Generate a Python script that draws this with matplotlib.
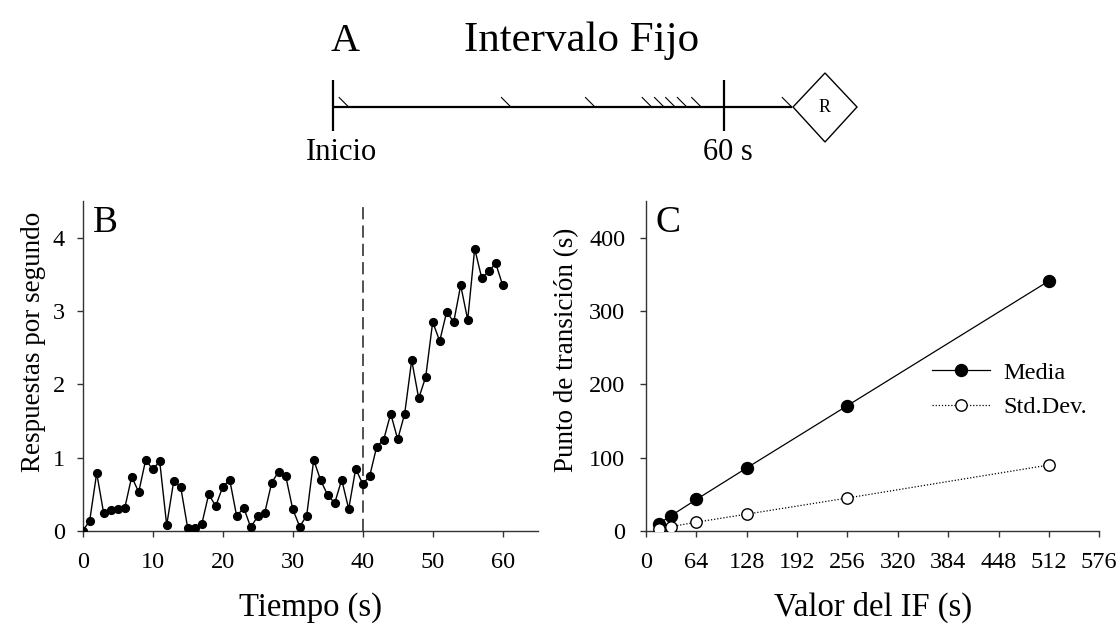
import matplotlib
matplotlib.use("Agg")
import matplotlib.pyplot as plt
from matplotlib.patches import Polygon

plt.rcParams['font.family'] = ['Liberation Serif', 'DejaVu Serif']

# ---------------- data ----------------
# Panel A: response times (s) on the fixed-interval timeline
resp_times = [2.4, 27.3, 40.2, 48.9, 50.8, 52.5, 54.3, 56.5, 70.4]
interval_s = 60
reinforcer_s = 75.5

# Panel B: responses per second over time
tiempo = list(range(0, 61))
respuestas = [0.00, 0.14, 0.79, 0.24, 0.28, 0.30, 0.31, 0.74, 0.53, 0.97,
              0.84, 0.95, 0.08, 0.68, 0.60, 0.04, 0.04, 0.09, 0.50, 0.34,
              0.60, 0.70, 0.20, 0.32, 0.05, 0.20, 0.245, 0.66, 0.81, 0.75,
              0.30, 0.06, 0.21, 0.97, 0.69, 0.49, 0.38, 0.70, 0.30, 0.85,
              0.64, 0.75, 1.15, 1.245, 1.60, 1.25, 1.60, 2.33, 1.81, 2.10,
              2.85, 2.59, 2.99, 2.85, 3.35, 2.88, 3.85, 3.45, 3.54, 3.65,
              3.35]
transicion_B = 40
b_xticks = [0, 10, 20, 30, 40, 50, 60]
b_yticks = [0, 1, 2, 3, 4]

# Panel C: transition point vs FI value
valor_if = [16, 32, 64, 128, 256, 512]
media = [10, 21, 43, 86, 171, 341]
std_dev = [3, 6, 12, 23, 45, 90]
c_xticks = [0, 64, 128, 192, 256, 320, 384, 448, 512, 576]
c_yticks = [0, 100, 200, 300, 400]

# ---------------- figure ----------------
W, H = 1120, 624
fig = plt.figure(figsize=(W / 100, H / 100), dpi=100)

TICK_FS = 17.5
XLAB_FS = 23.5
YLAB_FS = 19.5

# ---- Panel A (diagram) ----
axA = fig.add_axes([0, 0, 1, 1])
px_per_s = (724 - 333) / 60.0
axA.set_xlim(-333 / px_per_s, (W - 333) / px_per_s)
axA.set_ylim(H, 0)  # vertical in pixels
axA.axis('off')
line_y = 107
sx = 9.5 / px_per_s
axA.plot([0, resp_times[-1]], [line_y, line_y], color='black', lw=1.6,
         solid_capstyle='butt')
for t in [0, interval_s]:
    axA.plot([t, t], [80, 131], color='black', lw=1.6, solid_capstyle='butt')
for t in resp_times:
    axA.plot([t - sx, t], [line_y - 9.5, line_y], color='black', lw=0.8)
hw = 32 / px_per_s
diamond = Polygon([[reinforcer_s - hw, line_y], [reinforcer_s, line_y - 34],
                   [reinforcer_s + hw, line_y], [reinforcer_s, line_y + 35]],
                  closed=True, fill=False, edgecolor='black', lw=1.0)
axA.add_patch(diamond)
axA.text(reinforcer_s, line_y + 1, 'R', ha='center', va='center', fontsize=13)
axA.text(0 + 8.7 / px_per_s, 160, 'Inicio', ha='center', va='baseline', fontsize=22)
axA.text(interval_s + 3.6 / px_per_s, 160, '60 s', ha='center', va='baseline', fontsize=22)
axA.text(-2 / px_per_s, 51, 'A', ha='left', va='baseline', fontsize=29)
axA.text((464 - 333) / px_per_s, 51, 'Intervalo Fijo', ha='left', va='baseline', fontsize=31)


def style(ax):
    for s in ['top', 'right']:
        ax.spines[s].set_visible(False)
    for s in ['left', 'bottom']:
        ax.spines[s].set_linewidth(1.0)
        ax.spines[s].set_color('#333333')
    ax.tick_params(direction='out', length=4, width=1.0, color='#333333',
                   labelsize=TICK_FS)


# ---- Panel B ----
axB = fig.add_axes([82.7 / W, (H - 531) / H, 455 / W, 330 / H])
axB.plot(tiempo, respuestas, color='black', lw=1.0, marker='o', ms=5.6,
         mfc='black', mec='black', zorder=3)
axB.axvline(transicion_B, color='#222222', lw=1.1, dashes=(8, 4))
axB.set_xlim(0, 65)
axB.set_ylim(0, 4.5)
axB.set_xticks(b_xticks)
axB.set_yticks(b_yticks)
style(axB)
axB.tick_params(axis='x', pad=11)
axB.tick_params(axis='y', pad=9)
axB.set_xlabel('Tiempo (s)', fontsize=XLAB_FS)
axB.xaxis.set_label_coords(0.5, -0.185)
axB.set_ylabel('Respuestas por segundo', fontsize=YLAB_FS)
axB.yaxis.set_label_coords(-0.08, 0.574)
axB.text(0.022, 0.985, 'B', transform=axB.transAxes, ha='left', va='top', fontsize=27)

# ---- Panel C ----
axC = fig.add_axes([646 / W, (H - 531) / H, 453.3 / W, 330 / H])
axC.plot(valor_if, media, color='black', lw=0.9, marker='o', ms=8.6,
         mfc='black', mec='black', zorder=3, label='Media')
axC.plot(valor_if, std_dev, color='black', lw=0.9, ls=(0, (1, 1.5)), marker='o',
         ms=8.2, mfc='white', mec='black', mew=1.0, zorder=3, label='Std.Dev.')
axC.set_xlim(0, 576)
axC.set_ylim(0, 450)
axC.set_xticks(c_xticks)
axC.set_yticks(c_yticks)
style(axC)
axC.tick_params(axis='x', pad=11)
axC.tick_params(axis='y', pad=11)
axC.set_xlabel('Valor del IF (s)', fontsize=XLAB_FS)
axC.xaxis.set_label_coords(0.5, -0.185)
axC.set_ylabel('Punto de transición (s)', fontsize=YLAB_FS)
axC.yaxis.set_label_coords(-0.148, 0.548)
axC.text(0.02, 0.985, 'C', transform=axC.transAxes, ha='left', va='top', fontsize=27)
leg = axC.legend(loc='center left', bbox_to_anchor=((932 - 646) / 453.3, (531 - 390) / 330),
                 frameon=False, fontsize=17.5, handlelength=2.4, handletextpad=0.55,
                 labelspacing=0.5, borderaxespad=0, borderpad=0)

fig.savefig('out.png', dpi=100)
